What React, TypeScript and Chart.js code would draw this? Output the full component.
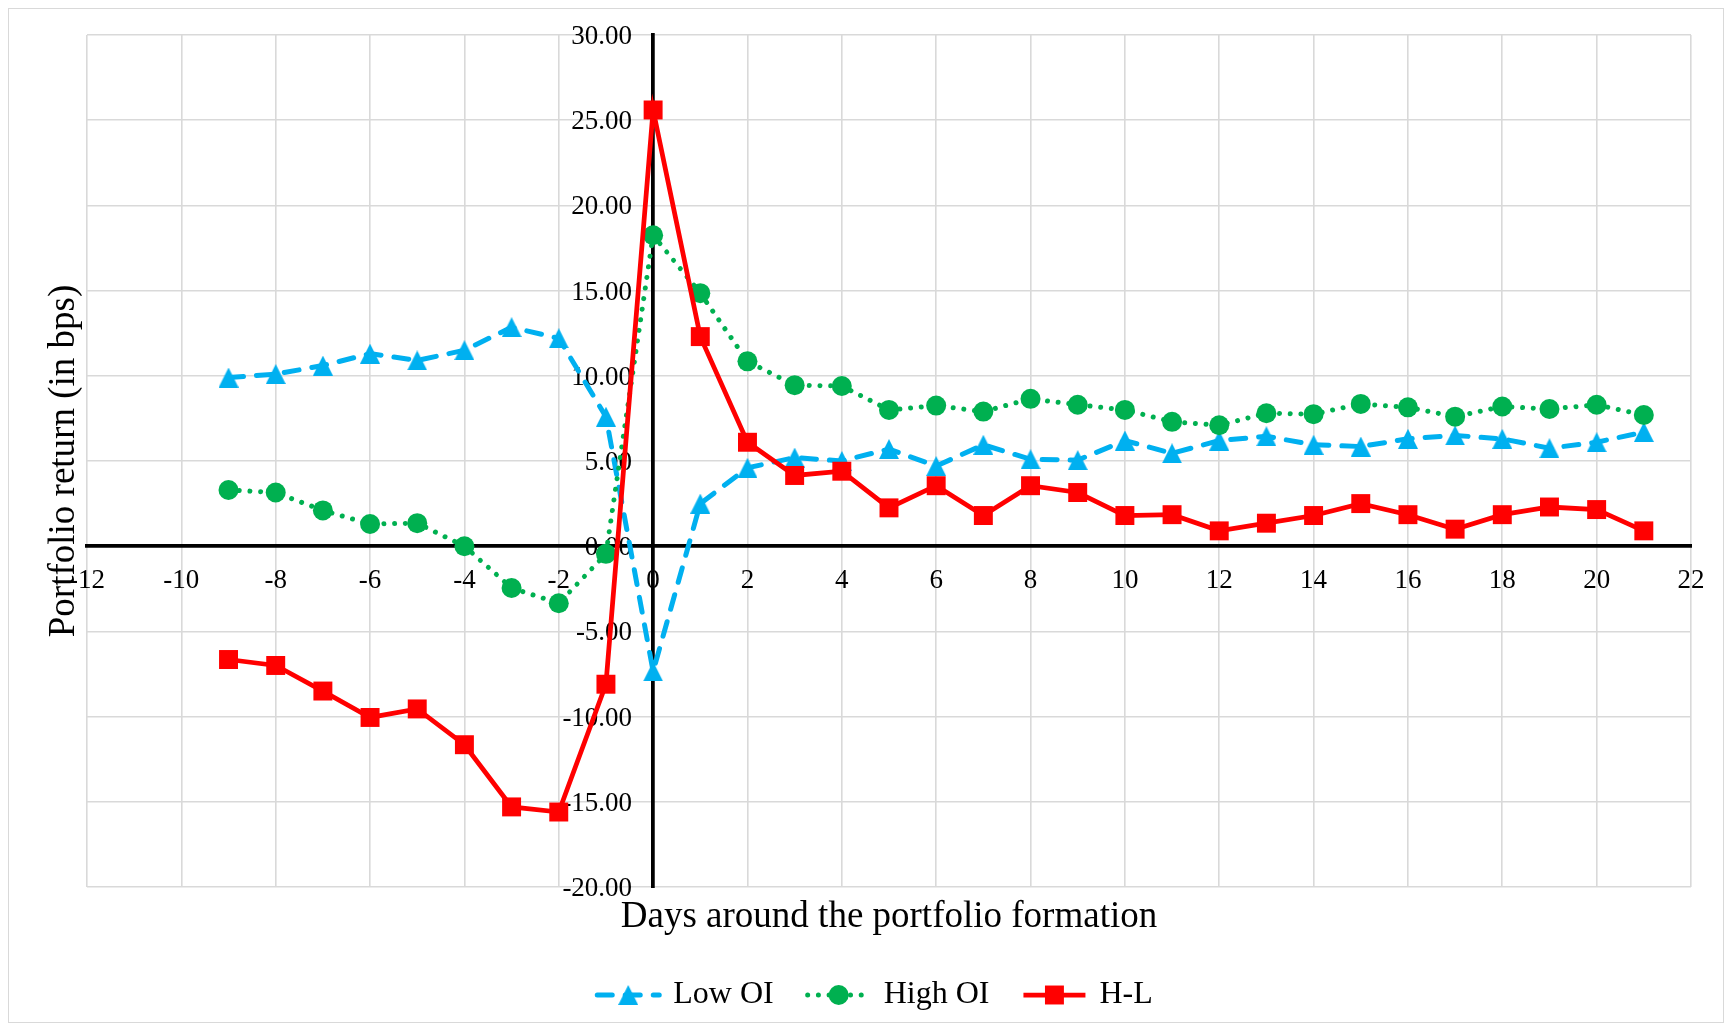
import React, { useEffect, useRef } from "react";
import { Chart, registerables } from "chart.js";

Chart.register(...registerables);

// Event days relative to portfolio formation
const days = [-9, -8, -7, -6, -5, -4, -3, -2, -1, 0, 1, 2, 3, 4, 5, 6, 7, 8, 9, 10, 11, 12, 13, 14, 15, 16, 17, 18, 19, 20, 21];

// Portfolio returns in basis points
const lowOI = [9.9, 10.1, 10.6, 11.3, 10.9, 11.5, 12.85, 12.2, 7.6, -7.35, 2.5, 4.6, 5.2, 5.0, 5.7, 4.7, 5.95, 5.1, 5.05, 6.2, 5.45, 6.2, 6.45, 5.95, 5.85, 6.3, 6.5, 6.3, 5.75, 6.1, 6.7];
const highOI = [3.3, 3.15, 2.1, 1.3, 1.35, 0.0, -2.45, -3.35, -0.45, 18.25, 14.85, 10.85, 9.45, 9.4, 8.0, 8.25, 7.9, 8.65, 8.3, 8.0, 7.3, 7.1, 7.8, 7.75, 8.35, 8.15, 7.6, 8.2, 8.05, 8.3, 7.7];
const highMinusLow = [-6.65, -7.0, -8.5, -10.05, -9.55, -11.65, -15.3, -15.6, -8.1, 25.6, 12.3, 6.1, 4.15, 4.4, 2.25, 3.55, 1.8, 3.55, 3.15, 1.8, 1.85, 0.9, 1.35, 1.8, 2.5, 1.85, 1.0, 1.85, 2.3, 2.15, 0.9];

const seriesNames = ["Low OI", "High OI", "H-L"];

// Axis ranges
const xRange = { min: -12, max: 22, step: 2 };
const yRange = { min: -20, max: 30, step: 5 };

const SERIF = '"Liberation Serif", "Times New Roman", serif';
const GRID = "#d9d9d9";
const BLUE = "#00b0f0";
const GREEN = "#00b050";
const RED = "#ff0000";

const toPoints = (values: number[]) => days.map((d, i) => ({ x: d, y: values[i] }));

// Upright triangle marker as a small canvas image
function makeTriangle(w: number, h: number, color: string) {
  const c = document.createElement("canvas");
  c.width = w;
  c.height = h;
  const g = c.getContext("2d")!;
  g.fillStyle = color;
  g.beginPath();
  g.moveTo(w / 2, 0);
  g.lineTo(w, h);
  g.lineTo(0, h);
  g.closePath();
  g.fill();
  return c;
}

function drawMarker(ctx: CanvasRenderingContext2D, style: any, x: number, y: number, r: number, color: string) {
  if (style && typeof style === "object") {
    ctx.drawImage(style, x - style.width / 2, y - style.height / 2, style.width, style.height);
    return;
  }
  ctx.fillStyle = color;
  ctx.beginPath();
  if (style === "rect") {
    const s = r * Math.SQRT1_2;
    ctx.rect(x - s, y - s, 2 * s, 2 * s);
  } else {
    ctx.arc(x, y, r, 0, Math.PI * 2);
  }
  ctx.fill();
}

// Legend with a line sample and marker for each series
const lineLegend = {
  id: "lineLegend",
  afterDraw(chart: any, _args: any, opts: any) {
    const { ctx } = chart;
    ctx.save();
    ctx.font = `${opts.fontSize}px ${SERIF}`;
    const items = chart.data.datasets.map((ds: any) => ({ ds, w: ctx.measureText(ds.label).width }));
    const total =
      items.reduce((s: number, it: any) => s + opts.sample + opts.textGap + it.w, 0) +
      opts.itemGap * (items.length - 1);
    let x = opts.centerX - total / 2;
    const y = opts.y;
    for (const { ds, w } of items) {
      ctx.strokeStyle = ds.borderColor;
      ctx.lineWidth = ds.borderWidth;
      ctx.lineCap = ds.borderCapStyle || "butt";
      ctx.setLineDash(ds.borderDash || []);
      ctx.beginPath();
      ctx.moveTo(x, y);
      ctx.lineTo(x + opts.sample, y);
      ctx.stroke();
      ctx.setLineDash([]);
      drawMarker(ctx, ds.pointStyle, x + opts.sample / 2, y, ds.pointRadius, ds.pointBackgroundColor);
      ctx.fillStyle = "#000";
      ctx.textBaseline = "middle";
      ctx.textAlign = "left";
      ctx.fillText(ds.label, x + opts.sample + opts.textGap, y);
      x += opts.sample + opts.textGap + w + opts.itemGap;
    }
    ctx.restore();
  },
};

// Pin the vertical tick-label axis to x = 0 of the main horizontal scale,
// leaving room on its left for the labels
const LABEL_ROOM = 140;
const crossAxisPlacement = {
  id: "crossAxisPlacement",
  afterLayout(chart: any) {
    const s = chart.scales.yCross;
    const x0 = chart.scales.x.getPixelForValue(0);
    s.left = x0 - LABEL_ROOM;
    s.right = x0;
    s.width = LABEL_ROOM;
    s._labelItems = null;
    s._gridLineItems = null;
  },
};

export default function App() {
  const ref = useRef<HTMLCanvasElement>(null);

  useEffect(() => {
    const canvas = ref.current;
    if (!canvas) return;

    const tickFont = { family: SERIF, size: 27 };
    const titleFont = { family: SERIF, size: 37 };
    const triangle = makeTriangle(20, 20, BLUE);

    const chart = new Chart(canvas, {
      type: "line",
      data: {
        datasets: [
          {
            label: seriesNames[0],
            data: toPoints(lowOI),
            xAxisID: "x",
            yAxisID: "y",
            borderColor: BLUE,
            backgroundColor: BLUE,
            borderWidth: 5,
            borderDash: [15, 13],
            borderCapStyle: "round",
            pointStyle: triangle,
            pointRadius: 10,
            pointBackgroundColor: BLUE,
            pointBorderColor: BLUE,
            tension: 0,
            order: 3,
          },
          {
            label: seriesNames[1],
            data: toPoints(highOI),
            xAxisID: "x",
            yAxisID: "y",
            borderColor: GREEN,
            backgroundColor: GREEN,
            borderWidth: 5,
            borderDash: [0.01, 10.7],
            borderCapStyle: "round",
            pointStyle: "circle",
            pointRadius: 10,
            pointBackgroundColor: GREEN,
            pointBorderColor: GREEN,
            pointBorderWidth: 0,
            tension: 0,
            order: 2,
          },
          {
            label: seriesNames[2],
            data: toPoints(highMinusLow),
            xAxisID: "x",
            yAxisID: "y",
            borderColor: RED,
            backgroundColor: RED,
            borderWidth: 4.75,
            pointStyle: "rect",
            pointRadius: 13.4,
            pointBackgroundColor: RED,
            pointBorderColor: RED,
            pointBorderWidth: 0,
            tension: 0,
            order: 1,
          },
        ],
      },
      options: {
        animation: false,
        responsive: false,
        layout: { padding: { top: 26, right: 32, bottom: 83, left: 0 } },
        plugins: {
          legend: { display: false },
          tooltip: { enabled: false },
          lineLegend: { fontSize: 32, sample: 62, textGap: 14, itemGap: 34, centerX: 866, y: 986 },
        } as any,
        scales: {
          x: {
            type: "linear",
            position: "bottom",
            min: xRange.min,
            max: xRange.max,
            ticks: { display: false, stepSize: xRange.step },
            grid: { color: GRID, lineWidth: 1.6, drawTicks: false },
            border: { display: false },
            title: {
              display: true,
              text: "Days around the portfolio formation",
              color: "#000",
              font: titleFont,
              padding: { top: 0, bottom: 0 },
            },
            afterFit(s: any) {
              s.height = 52;
            },
          },
          y: {
            type: "linear",
            position: "left",
            min: yRange.min,
            max: yRange.max,
            ticks: { display: false, stepSize: yRange.step },
            grid: { color: GRID, lineWidth: 1.6, drawTicks: false },
            border: { display: false },
            title: {
              display: true,
              text: "Portfolio return (in bps)",
              color: "#000",
              font: titleFont,
              padding: { top: 33, bottom: 0 },
            },
            afterFit(s: any) {
              s.width = 78;
            },
          },
          // Horizontal axis line through y = 0, carrying the day labels
          xCross: {
            type: "linear",
            axis: "x",
            position: { y: 0 },
            min: xRange.min,
            max: xRange.max,
            grid: { display: false },
            border: { display: true, color: "#000", width: 3.75 },
            ticks: {
              stepSize: xRange.step,
              autoSkip: false,
              maxRotation: 0,
              minRotation: 0,
              padding: 11,
              color: "#000",
              font: tickFont,
            },
            afterFit(s: any) {
              s.height = 0;
              s.paddingLeft = 0;
              s.paddingRight = 0;
            },
          },
          // Vertical axis line through x = 0, carrying the return labels
          yCross: {
            type: "linear",
            axis: "y",
            position: "left",
            min: yRange.min,
            max: yRange.max,
            grid: { display: false },
            border: { display: true, color: "#000", width: 3.75 },
            ticks: {
              stepSize: yRange.step,
              autoSkip: false,
              padding: 13,
              labelOffset: 2,
              color: "#000",
              font: tickFont,
              callback: (v: any) => Number(v).toFixed(2),
            },
            afterFit(s: any) {
              s.width = 0;
              s.paddingTop = 0;
              s.paddingBottom = 0;
            },
          },
        } as any,
      },
      plugins: [crossAxisPlacement, lineLegend],
    } as any);

    return () => chart.destroy();
  }, []);

  return (
    <div style={{ border: "1px solid #d9d9d9", width: 1714, height: 1013 }}>
      <canvas ref={ref} width={1714} height={1013} style={{ display: "block" }} />
    </div>
  );
}
